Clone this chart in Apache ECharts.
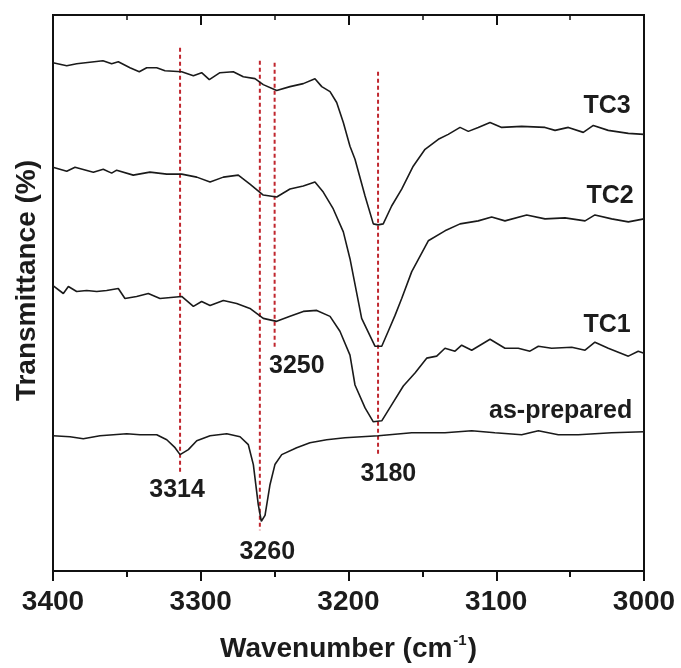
<!DOCTYPE html>
<html>
<head>
<meta charset="utf-8">
<script src="https://cdn.jsdelivr.net/npm/echarts@6/dist/echarts.min.js"></script>
<style>
html,body{margin:0;padding:0;background:#fff;}
#chart{width:681px;height:668px;}
</style>
</head>
<body>
<div id="chart"></div>
<script>
// ---- Data (arbitrary transmittance units, curves offset vertically) ----
var tc3Wn = [3400,3390.7,3384.0,3366.2,3360.3,3355.8,3347.9,3341.6,3336.6,3329.8,3324.2,3312.9,3305.0,3299.4,3294.2,3287.0,3278.0,3271.2,3263.3,3257.7,3248.6,3239.6,3230.6,3222.7,3218.1,3212.5,3208.0,3203.5,3199.0,3195.6,3188.8,3183.2,3180,3176.5,3170.8,3164.0,3156.2,3148.2,3139.2,3132.5,3124.5,3118.9,3112.2,3104.2,3096.3,3082.8,3067.0,3060.2,3051.2,3041.1,3034.3,3024.2,3010.6,3000];
var tc3T  = [511,508,510,513,510,512,506,502,506,506,503,502,498,501,494,501,502,497,495,489,483,487,490,495,487,482,471,451,427,414,377,349,348,349,367,384,407,424,434,439,446,442,446,451,446,447,446,443,446,441,448,443,440,439];

var tc2Wn = [3400,3390.7,3385.1,3372.7,3366.0,3360.3,3356.9,3345.7,3334.4,3323.0,3312.9,3302.7,3293.7,3284.7,3274.6,3266.7,3257.7,3248.6,3239.6,3230.6,3222.7,3217.1,3210.3,3203.5,3199.0,3191.1,3182.1,3177.5,3173.1,3168.5,3164.0,3157.2,3146.0,3134.7,3124.5,3112.2,3103.1,3094.1,3079.4,3067.0,3053.5,3039.9,3033.2,3021.9,3010.6,3000];
var tc2T  = [406,402,406,401,404,400,403,398,401,399,399,396,391,396,398,389,378,376,384,387,391,381,364,341,314,254,226,226,241,257,274,301,332,342,349,352,356,352,358,354,355,352,358,354,351,354];

var tc1Wn = [3400,3393.0,3389.6,3384.0,3377.2,3370.4,3363.7,3355.8,3351.3,3343.4,3335.5,3327.6,3312.9,3305.0,3299.4,3293.7,3284.7,3275.7,3266.7,3257.7,3248.6,3239.6,3230.6,3221.5,3212.5,3205.8,3199.0,3195.6,3188.8,3183.2,3177.5,3170.8,3162.9,3155.0,3147.1,3140.3,3134.7,3127.9,3123.4,3116.6,3104.2,3094.1,3085.1,3077.2,3071.5,3062.5,3048.9,3039.9,3033.2,3024.2,3010.6,3003.9,3000];
var tc1T  = [287,279,286,281,282,281,282,284,274,276,279,274,276,266,271,267,272,269,264,254,251,256,261,262,256,241,217,187,164,150,151,167,186,199,214,216,224,221,227,222,233,224,224,221,226,224,225,222,230,224,216,221,219];

var asWn = [3400,3388.5,3379.5,3368.2,3350.1,3341.1,3329.8,3323.0,3317.4,3314,3308.4,3302.7,3293.7,3282.4,3273.4,3267.8,3264.4,3261.1,3259,3256.5,3253.1,3249.8,3245.2,3235.1,3226.1,3214.8,3202.4,3179.8,3157.2,3134.7,3116.6,3100.9,3082.8,3071.5,3058.0,3044.5,3021.9,3000];
var asT  = [136,135,133,136,138,137,137,132,124,117,122,131,136,138,135,127,107,67,50,56,87,107,117,124,129,132,134,136,139,139,141,139,137,141,137,137,139,140];

// peak marker lines
var peakPos    = [3314, 3260, 3250, 3180];
var peakTop    = [526, 513, 511, 502];
var peakBottom = [99, 41, 224, 117];

// peak annotation labels
var peakLabels = ['3314', '3260', '3250', '3180'];
var peakLabelWn = [3316, 3255, 3235, 3173];
var peakLabelT  = [81, 19, 206, 97];

// sample names
var sampleNames   = ['TC3', 'TC2', 'TC1', 'as-prepared'];
var sampleLabelWn = [3009, 3007, 3009, 3008];
var sampleLabelT  = [467, 377, 247, 161];

// x ticks
var xMin = 3000, xMax = 3400, xStep = 100;

// ---- Build ----
function zip(a, b) { return a.map(function (v, i) { return [v, b[i]]; }); }
var FONT = '"Liberation Sans", Arial, sans-serif';
var TXT = '#1c1c1c';

var curveStyle = { color: '#1a1a1a', width: 1.6 };
var series = [];
[['TC3', tc3Wn, tc3T], ['TC2', tc2Wn, tc2T], ['TC1', tc1Wn, tc1T], ['as-prepared', asWn, asT]].forEach(function (s) {
  series.push({
    name: s[0], type: 'line', data: zip(s[1], s[2]), showSymbol: false, symbol: 'none',
    lineStyle: curveStyle, itemStyle: { color: '#1a1a1a' }, z: 3, animation: false
  });
});
peakPos.forEach(function (p, i) {
  series.push({
    type: 'line', data: [[p, peakTop[i]], [p, peakBottom[i]]], showSymbol: false, symbol: 'none',
    lineStyle: { color: '#c0262e', width: 2, type: [4, 3] }, z: 2, animation: false, silent: true
  });
});
function labelSeries(names, wn, t, align) {
  return {
    type: 'scatter', symbolSize: 0, itemStyle: { color: TXT, opacity: 1 }, silent: true, z: 5, animation: false,
    data: names.map(function (n, i) { return { name: n, value: [wn[i], t[i]] }; }),
    label: { show: true, position: 'inside', formatter: '{b}', align: align, verticalAlign: 'middle',
      fontFamily: FONT, fontWeight: 'bold', fontSize: 25, color: TXT, opacity: 1 }
  };
}
series.push(labelSeries(peakLabels, peakLabelWn, peakLabelT, 'center'));
series.push(labelSeries(sampleNames, sampleLabelWn, sampleLabelT, 'right'));

var axisLineStyle = { color: '#111', width: 2 };
var chart = echarts.init(document.getElementById('chart'), null, { renderer: 'canvas' });
chart.setOption({
  backgroundColor: '#fff',
  animation: false,
  grid: { left: 53, right: 37, top: 15, bottom: 94, show: true, borderColor: '#111', borderWidth: 2, backgroundColor: 'transparent' },
  xAxis: [{
    type: 'value', position: 'bottom', min: xMin, max: xMax, interval: xStep, inverse: true,
    axisLine: { show: true, lineStyle: axisLineStyle },
    axisTick: { show: true, inside: false, length: 10, lineStyle: { color: '#111', width: 2 } },
    minorTick: { show: true, splitNumber: 2, length: 6, lineStyle: { color: '#111', width: 2 } },
    splitLine: { show: false },
    axisLabel: { fontFamily: FONT, fontWeight: 'bold', fontSize: 28, color: TXT, margin: 17,
      formatter: function (v) { return String(v); } },
    name: '{a|Wavenumber (cm}{s|-1}{a|)}', nameLocation: 'middle', nameGap: 62,
    nameTextStyle: { rich: {
      a: { fontFamily: FONT, fontWeight: 'bold', fontSize: 28, color: TXT, lineHeight: 32 },
      s: { fontFamily: FONT, fontWeight: 'bold', fontSize: 15, color: TXT, verticalAlign: 'top', lineHeight: 32, padding: [0, 1, 14, 1] }
    } }
  }, {
    type: 'value', position: 'top', min: xMin, max: xMax, interval: xStep, inverse: true,
    axisLine: { show: true, lineStyle: axisLineStyle },
    axisTick: { show: true, inside: true, length: 10, lineStyle: { color: '#111', width: 2 } },
    minorTick: { show: true, splitNumber: 2, length: 5, lineStyle: { color: '#111', width: 1.5 } },
    splitLine: { show: false },
    axisLabel: { show: false }
  }],
  yAxis: [{
    type: 'value', min: 0, max: 559, position: 'left',
    axisLine: { show: true, lineStyle: axisLineStyle },
    axisTick: { show: false }, axisLabel: { show: false }, splitLine: { show: false },
    name: 'Transmittance (%)', nameLocation: 'middle', nameGap: 12, nameRotate: 90,
    nameTextStyle: { fontFamily: FONT, fontWeight: 'bold', fontSize: 28, color: TXT, padding: [0, 0, 0, 25] }
  }],
  series: series
});
</script>
</body>
</html>
